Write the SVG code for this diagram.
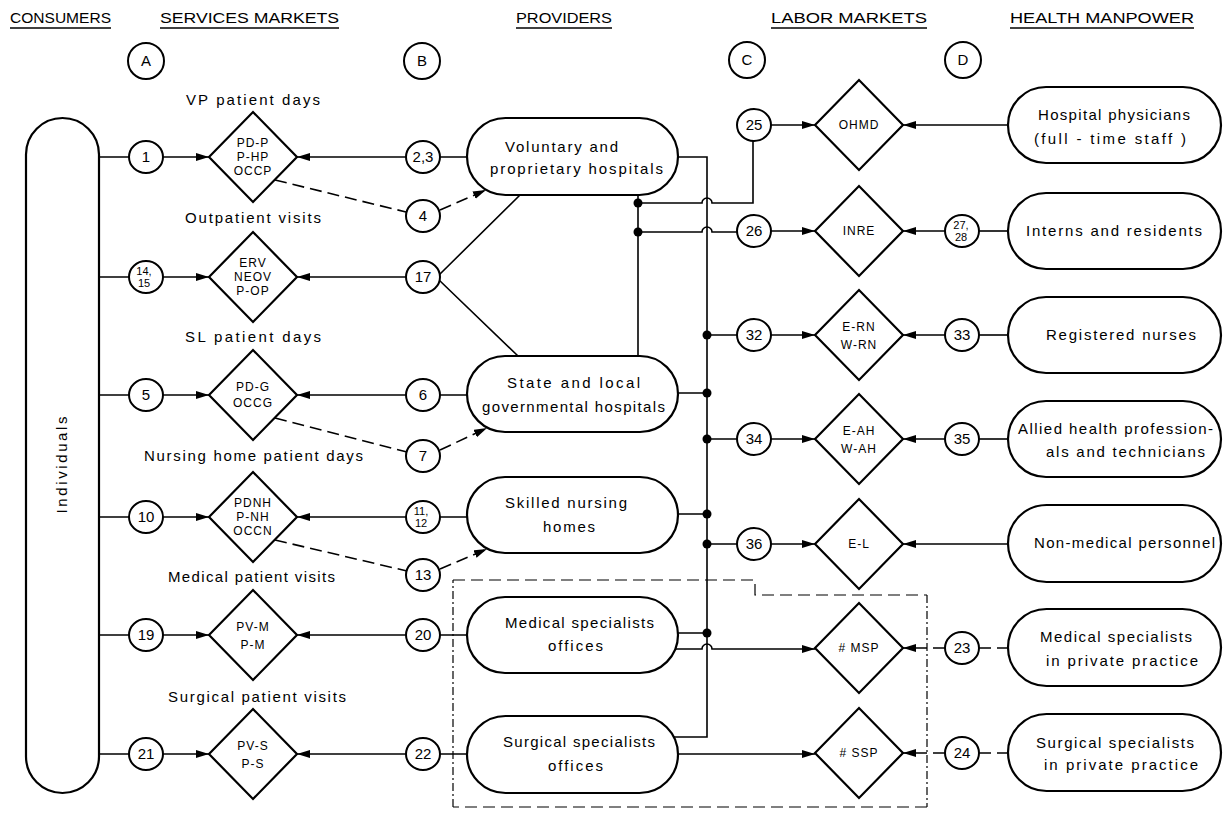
<svg xmlns="http://www.w3.org/2000/svg" width="1225" height="813" viewBox="0 0 1225 813">
<defs>
<marker id="ah" markerWidth="14" markerHeight="10" refX="13" refY="4" orient="auto" markerUnits="userSpaceOnUse"><path d="M0,0 L13,4 L0,8 Z" fill="#000"/></marker>
<style>
text{font-family:"Liberation Sans",Arial,sans-serif;fill:#000}
.hd{font-size:15px}
.ul{stroke:#000;stroke-width:1.5}
.lbl{font-size:15px}
.pt{font-size:15px}
.dt{font-size:12px;letter-spacing:1px;text-anchor:middle}
.ct{font-size:15px;text-anchor:middle}
.cs{font-size:11px;text-anchor:middle}
.lt{font-size:15px;text-anchor:middle}
.pill{fill:#fff;stroke:#000;stroke-width:2.2}
.dia{fill:#fff;stroke:#000;stroke-width:2.2}
.cir{fill:#fff;stroke:#000;stroke-width:2}
.ln{fill:none;stroke:#000;stroke-width:1.6}
.arr{fill:none;stroke:#000;stroke-width:1.6;marker-end:url(#ah)}
.dsh{fill:none;stroke:#000;stroke-width:1.6;stroke-dasharray:12 6}
.dsha{fill:none;stroke:#000;stroke-width:1.6;stroke-dasharray:12 6;marker-end:url(#ah)}
.box{fill:none;stroke:#000;stroke-width:1.2;stroke-dasharray:12 6}
.boxs{fill:none;stroke:#000;stroke-width:1.2;stroke-dasharray:8 3 2 3}
.dot{fill:#000}
</style>
</defs>
<rect width="1225" height="813" fill="#fff"/>

<g id="headers">
<text class="hd" x="10" y="23" textLength="101" lengthAdjust="spacingAndGlyphs">CONSUMERS</text>
<line class="ul" x1="10" y1="28" x2="111" y2="28"/>
<text class="hd" x="160" y="23" textLength="179" lengthAdjust="spacingAndGlyphs">SERVICES  MARKETS</text>
<line class="ul" x1="160" y1="28" x2="339" y2="28"/>
<text class="hd" x="516" y="23" textLength="96" lengthAdjust="spacingAndGlyphs">PROVIDERS</text>
<line class="ul" x1="516" y1="28" x2="612" y2="28"/>
<text class="hd" x="771" y="23" textLength="156" lengthAdjust="spacingAndGlyphs">LABOR  MARKETS</text>
<line class="ul" x1="771" y1="28" x2="927" y2="28"/>
<text class="hd" x="1010" y="23" textLength="184" lengthAdjust="spacingAndGlyphs">HEALTH  MANPOWER</text>
<line class="ul" x1="1010" y1="28" x2="1194" y2="28"/>
</g>

<g id="column-markers">
<g id="mA"><circle class="cir" cx="146" cy="61" r="18"/><text class="ct" x="146" y="66">A</text></g>
<g id="mB"><circle class="cir" cx="422" cy="61" r="18"/><text class="ct" x="422" y="66">B</text></g>
<g id="mC"><circle class="cir" cx="747" cy="60" r="18"/><text class="ct" x="747" y="65">C</text></g>
<g id="mD"><circle class="cir" cx="963" cy="60" r="18"/><text class="ct" x="963" y="65">D</text></g>
</g>

<g id="row-labels">
<text class="lbl" x="186" y="105" textLength="134" lengthAdjust="spacing">VP patient days</text>
<text class="lbl" x="185" y="223" textLength="136" lengthAdjust="spacing">Outpatient visits</text>
<text class="lbl" x="185" y="342" textLength="136" lengthAdjust="spacing">SL patient days</text>
<text class="lbl" x="144" y="461" textLength="219" lengthAdjust="spacing">Nursing home patient days</text>
<text class="lbl" x="168" y="582" textLength="167" lengthAdjust="spacing">Medical patient visits</text>
<text class="lbl" x="168" y="702" textLength="178" lengthAdjust="spacing">Surgical patient visits</text>
</g>

<g id="connectors">
<path class="ln" d="M99,157 H129 M99,277 H129 M99,395 H129 M99,517 H129 M99,635 H129 M99,754 H129"/>
<path class="arr" d="M163,157 H209"/>
<path class="arr" d="M163,277 H209"/>
<path class="arr" d="M163,395 H209"/>
<path class="arr" d="M163,517 H209"/>
<path class="arr" d="M163,635 H209"/>
<path class="arr" d="M163,754 H209"/>
<path class="arr" d="M406,157 H297"/>
<path class="arr" d="M406,277 H297"/>
<path class="arr" d="M406,395 H297"/>
<path class="arr" d="M406,517 H297"/>
<path class="arr" d="M406,635 H297"/>
<path class="arr" d="M406,754 H297"/>
<path class="ln" d="M440,157 H470 M440,395 H470 M440,517 H470 M440,635 H470 M440,754 H470"/>
<path class="ln" d="M439,275 L520,195 M439,280 L518,356"/>
<path class="dsh" d="M275,180 L406,212"/>
<path class="dsha" d="M440,210 L486,190"/>
<path class="dsh" d="M275,418 L407,452"/>
<path class="dsha" d="M440,450 L487,428"/>
<path class="dsh" d="M275,540 L407,571"/>
<path class="dsha" d="M440,569 L487,549"/>
<path class="ln" d="M638,190 V360"/>
<path class="ln" d="M672,157 H707 V737 H672"/>
<path class="ln" d="M638,203 H702 A5,5 0 0 1 712,203 H753 V141"/>
<path class="ln" d="M638,232 H702 A5,5 0 0 1 712,232 H737"/>
<path class="ln" d="M707,335 H737 M672,393 H707 M707,439 H737 M672,514 H707 M707,544 H737 M672,633 H707"/>
<path class="arr" d="M672,649 H702 A5,5 0 0 1 712,649 H815"/>
<path class="arr" d="M672,754 H815"/>
<path class="arr" d="M771,125 H815"/>
<path class="arr" d="M1010,125 H903"/>
<path class="arr" d="M771,231 H815"/>
<path class="arr" d="M945,231 H903"/>
<path class="ln" d="M979,231 H1010"/>
<path class="arr" d="M771,335 H815"/>
<path class="arr" d="M945,335 H903"/>
<path class="ln" d="M979,335 H1010"/>
<path class="arr" d="M771,439 H815"/>
<path class="arr" d="M945,439 H903"/>
<path class="ln" d="M979,439 H1010"/>
<path class="arr" d="M771,544 H815"/>
<path class="arr" d="M1010,544 H903"/>
<path class="dsha" d="M945,648 H903"/>
<path class="dsh" d="M979,648 H1010"/>
<path class="dsha" d="M945,753 H903"/>
<path class="dsh" d="M979,753 H1010"/>
<circle class="dot" cx="638" cy="203" r="4.5"/>
<circle class="dot" cx="638" cy="232" r="4.5"/>
<circle class="dot" cx="707" cy="335" r="4.5"/>
<circle class="dot" cx="707" cy="393" r="4.5"/>
<circle class="dot" cx="707" cy="439" r="4.5"/>
<circle class="dot" cx="707" cy="514" r="4.5"/>
<circle class="dot" cx="707" cy="544" r="4.5"/>
<circle class="dot" cx="707" cy="633" r="4.5"/>
</g>

<g id="private-practice-boundary">
<path class="box" d="M453,580 H755 V595 H927"/>
<path class="boxs" d="M927,595 V807"/>
<path class="box" d="M927,807 H453"/>
<path class="boxs" d="M453,807 V580"/>
</g>

<g id="individuals">
<rect class="pill" x="26" y="118" width="73" height="675" rx="36.5"/>
<g transform="translate(62,465) rotate(-90)"><text class="lt" x="0" y="5" textLength="97" lengthAdjust="spacing">Individuals</text></g>
</g>

<g id="circles-A">
<g id="n1"><ellipse class="cir" cx="146" cy="157" rx="17" ry="16"/><text class="ct" x="146" y="162">1</text></g>
<g id="n14-15"><ellipse class="cir" cx="146" cy="277" rx="17" ry="16"/><text class="cs" x="144" y="275">14,</text><text class="cs" x="144" y="287">15</text></g>
<g id="n5"><ellipse class="cir" cx="146" cy="395" rx="17" ry="16"/><text class="ct" x="146" y="400">5</text></g>
<g id="n10"><ellipse class="cir" cx="146" cy="517" rx="17" ry="16"/><text class="ct" x="146" y="522">10</text></g>
<g id="n19"><ellipse class="cir" cx="146" cy="635" rx="17" ry="16"/><text class="ct" x="146" y="640">19</text></g>
<g id="n21"><ellipse class="cir" cx="146" cy="754" rx="17" ry="16"/><text class="ct" x="146" y="759">21</text></g>
</g>

<g id="service-markets">
<g id="d-vp"><polygon class="dia" points="209,157 253,112 297,157 253,202"/><text class="dt" x="253" y="147">PD-P</text><text class="dt" x="253" y="161">P-HP</text><text class="dt" x="253" y="175">OCCP</text></g>
<g id="d-op"><polygon class="dia" points="209,277 253,232 297,277 253,322"/><text class="dt" x="253" y="267">ERV</text><text class="dt" x="253" y="281">NEOV</text><text class="dt" x="253" y="295">P-OP</text></g>
<g id="d-sl"><polygon class="dia" points="209,395 253,350 297,395 253,440"/><text class="dt" x="253" y="391">PD-G</text><text class="dt" x="253" y="407">OCCG</text></g>
<g id="d-nh"><polygon class="dia" points="209,517 253,472 297,517 253,562"/><text class="dt" x="253" y="507">PDNH</text><text class="dt" x="253" y="521">P-NH</text><text class="dt" x="253" y="535">OCCN</text></g>
<g id="d-m"><polygon class="dia" points="209,635 253,590 297,635 253,680"/><text class="dt" x="253" y="631">PV-M</text><text class="dt" x="253" y="649">P-M</text></g>
<g id="d-s"><polygon class="dia" points="209,754 253,709 297,754 253,799"/><text class="dt" x="253" y="750">PV-S</text><text class="dt" x="253" y="768">P-S</text></g>
</g>

<g id="circles-B">
<g id="n2-3"><ellipse class="cir" cx="423" cy="157" rx="17" ry="16"/><text class="ct" x="423" y="162" font-size="13.5">2,3</text></g>
<g id="n4"><ellipse class="cir" cx="423" cy="216" rx="17" ry="16"/><text class="ct" x="423" y="221">4</text></g>
<g id="n17"><ellipse class="cir" cx="423" cy="277" rx="17" ry="16"/><text class="ct" x="423" y="282">17</text></g>
<g id="n6"><ellipse class="cir" cx="423" cy="395" rx="17" ry="16"/><text class="ct" x="423" y="400">6</text></g>
<g id="n7"><ellipse class="cir" cx="423" cy="456" rx="17" ry="16"/><text class="ct" x="423" y="461">7</text></g>
<g id="n11-12"><ellipse class="cir" cx="423" cy="517" rx="17" ry="16"/><text class="cs" x="421" y="515">11,</text><text class="cs" x="421" y="527">12</text></g>
<g id="n13"><ellipse class="cir" cx="423" cy="575" rx="17" ry="16"/><text class="ct" x="423" y="580">13</text></g>
<g id="n20"><ellipse class="cir" cx="423" cy="635" rx="17" ry="16"/><text class="ct" x="423" y="640">20</text></g>
<g id="n22"><ellipse class="cir" cx="423" cy="754" rx="17" ry="16"/><text class="ct" x="423" y="759">22</text></g>
</g>

<g id="providers">
<g id="p-vp"><rect class="pill" x="467" y="118" width="211" height="77" rx="38.5"/><text class="pt" x="505" y="152" textLength="113" lengthAdjust="spacing">Voluntary and</text><text class="pt" x="490" y="174" textLength="173" lengthAdjust="spacing">proprietary hospitals</text></g>
<g id="p-sl"><rect class="pill" x="467" y="356" width="211" height="76" rx="38"/><text class="pt" x="507" y="388" textLength="133" lengthAdjust="spacing">State and local</text><text class="pt" x="482" y="412" textLength="183" lengthAdjust="spacing">governmental hospitals</text></g>
<g id="p-snh"><rect class="pill" x="467" y="477" width="211" height="76" rx="38"/><text class="pt" x="505" y="508" textLength="122" lengthAdjust="spacing">Skilled nursing</text><text class="pt" x="543" y="532" textLength="52" lengthAdjust="spacing">homes</text></g>
<g id="p-mso"><rect class="pill" x="467" y="597" width="211" height="76" rx="38"/><text class="pt" x="505" y="628" textLength="149" lengthAdjust="spacing">Medical specialists</text><text class="pt" x="548" y="651" textLength="55" lengthAdjust="spacing">offices</text></g>
<g id="p-sso"><rect class="pill" x="467" y="716" width="211" height="77" rx="38.5"/><text class="pt" x="503" y="747" textLength="152" lengthAdjust="spacing">Surgical specialists</text><text class="pt" x="548" y="771" textLength="55" lengthAdjust="spacing">offices</text></g>
</g>

<g id="circles-C">
<g id="n25"><ellipse class="cir" cx="754" cy="125" rx="17" ry="16"/><text class="ct" x="754" y="130">25</text></g>
<g id="n26"><ellipse class="cir" cx="754" cy="231" rx="17" ry="16"/><text class="ct" x="754" y="236">26</text></g>
<g id="n32"><ellipse class="cir" cx="754" cy="335" rx="17" ry="16"/><text class="ct" x="754" y="340">32</text></g>
<g id="n34"><ellipse class="cir" cx="754" cy="439" rx="17" ry="16"/><text class="ct" x="754" y="444">34</text></g>
<g id="n36"><ellipse class="cir" cx="754" cy="544" rx="17" ry="16"/><text class="ct" x="754" y="549">36</text></g>
</g>

<g id="labor-markets">
<g id="d-ohmd"><polygon class="dia" points="815,125 859,80 903,125 859,170"/><text class="dt" x="859" y="129">OHMD</text></g>
<g id="d-inre"><polygon class="dia" points="815,231 859,186 903,231 859,276"/><text class="dt" x="859" y="235">INRE</text></g>
<g id="d-rn"><polygon class="dia" points="815,335 859,290 903,335 859,380"/><text class="dt" x="859" y="331">E-RN</text><text class="dt" x="859" y="349">W-RN</text></g>
<g id="d-ah"><polygon class="dia" points="815,439 859,394 903,439 859,484"/><text class="dt" x="859" y="435">E-AH</text><text class="dt" x="859" y="453">W-AH</text></g>
<g id="d-el"><polygon class="dia" points="815,544 859,499 903,544 859,589"/><text class="dt" x="859" y="548">E-L</text></g>
<g id="d-msp"><polygon class="dia" points="815,648 859,603 903,648 859,693"/><text class="dt" x="859" y="652"># MSP</text></g>
<g id="d-ssp"><polygon class="dia" points="815,753 859,708 903,753 859,798"/><text class="dt" x="859" y="757"># SSP</text></g>
</g>

<g id="circles-D">
<g id="n27-28"><ellipse class="cir" cx="962" cy="231" rx="17" ry="16"/><text class="cs" x="961" y="229">27,</text><text class="cs" x="961" y="241">28</text></g>
<g id="n33"><ellipse class="cir" cx="962" cy="335" rx="17" ry="16"/><text class="ct" x="962" y="340">33</text></g>
<g id="n35"><ellipse class="cir" cx="962" cy="439" rx="17" ry="16"/><text class="ct" x="962" y="444">35</text></g>
<g id="n23"><ellipse class="cir" cx="962" cy="648" rx="17" ry="16"/><text class="ct" x="962" y="653">23</text></g>
<g id="n24"><ellipse class="cir" cx="962" cy="753" rx="17" ry="16"/><text class="ct" x="962" y="758">24</text></g>
</g>

<g id="manpower">
<g id="m-hp"><rect class="pill" x="1008" y="87" width="213" height="76" rx="38"/><text class="pt" x="1038" y="120" textLength="152" lengthAdjust="spacing">Hospital physicians</text><text class="pt" x="1034" y="144" textLength="152" lengthAdjust="spacing">(full - time staff )</text></g>
<g id="m-ir"><rect class="pill" x="1008" y="193" width="213" height="76" rx="38"/><text class="pt" x="1026" y="236" textLength="176" lengthAdjust="spacing">Interns and residents</text></g>
<g id="m-rn"><rect class="pill" x="1008" y="297" width="213" height="76" rx="38"/><text class="pt" x="1046" y="340" textLength="150" lengthAdjust="spacing">Registered nurses</text></g>
<g id="m-ah"><rect class="pill" x="1008" y="401" width="213" height="76" rx="38"/><text class="pt" x="1018" y="434" textLength="195" lengthAdjust="spacing">Allied health profession-</text><text class="pt" x="1046" y="457" textLength="159" lengthAdjust="spacing">als and technicians</text></g>
<g id="m-nm"><rect class="pill" x="1008" y="505" width="213" height="77" rx="38.5"/><text class="pt" x="1034" y="548" textLength="181" lengthAdjust="spacing">Non-medical personnel</text></g>
<g id="m-msp"><rect class="pill" x="1008" y="609" width="213" height="77" rx="38.5"/><text class="pt" x="1040" y="642" textLength="152" lengthAdjust="spacing">Medical specialists</text><text class="pt" x="1046" y="666" textLength="152" lengthAdjust="spacing">in private practice</text></g>
<g id="m-ssp"><rect class="pill" x="1008" y="714" width="213" height="77" rx="38.5"/><text class="pt" x="1036" y="748" textLength="158" lengthAdjust="spacing">Surgical specialists</text><text class="pt" x="1044" y="770" textLength="154" lengthAdjust="spacing">in private practice</text></g>
</g>
</svg>
